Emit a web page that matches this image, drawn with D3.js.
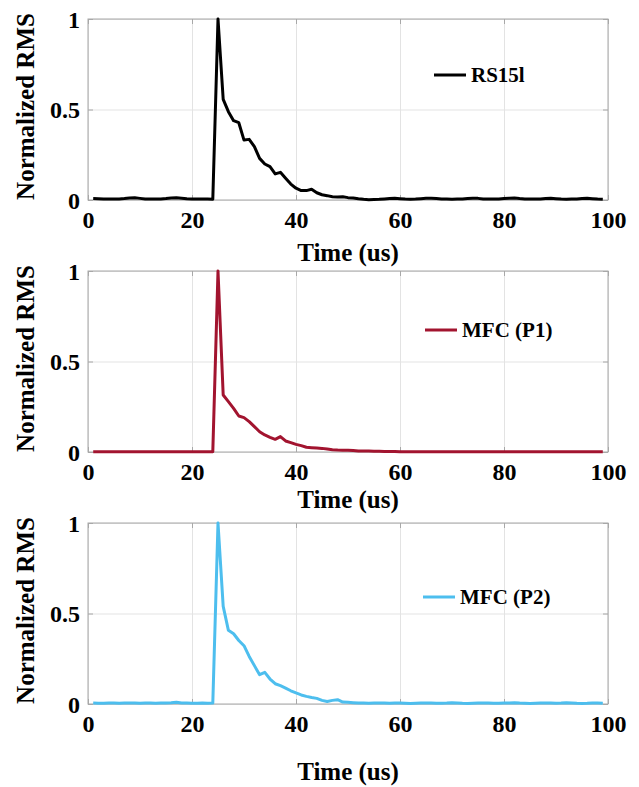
<!DOCTYPE html>
<html>
<head>
<meta charset="utf-8">
<script src="https://cdnjs.cloudflare.com/ajax/libs/d3/7.8.5/d3.min.js"></script>
<style>
    body { margin: 0; background: #fff; }
    svg text { font-weight: bold; fill: #000; }
</style>
</head>
<body>
<div id="chart"></div>
<script>

const FONT = "'Liberation Serif', Tinos, 'Times New Roman', 'DejaVu Serif', 'Noto Serif', serif";

// sampling grid (us)
const timeUs = d3.range(1, 100);

// normalized RMS, one value per microsecond (t = 1..99)
const rs15l = [
    0.008, 0.007, 0.006, 0.005, 0.005, 0.006, 0.008, 0.011, 0.012, 0.009,
    0.006, 0.005, 0.005, 0.006, 0.008, 0.011, 0.013, 0.010, 0.007, 0.006,
    0.006, 0.005, 0.005, 0.004, 1.000, 0.556, 0.488, 0.438, 0.427, 0.331,
    0.335, 0.295, 0.230, 0.199, 0.184, 0.144, 0.153, 0.120, 0.088, 0.065,
    0.052, 0.052, 0.059, 0.040, 0.029, 0.024, 0.018, 0.016, 0.018, 0.013,
    0.011, 0.007, 0.004, 0.002, 0.003, 0.004, 0.006, 0.008, 0.009, 0.007,
    0.005, 0.004, 0.005, 0.007, 0.009, 0.010, 0.008, 0.006, 0.005, 0.004,
    0.005, 0.006, 0.008, 0.010, 0.009, 0.006, 0.005, 0.005, 0.006, 0.008,
    0.010, 0.011, 0.008, 0.006, 0.005, 0.005, 0.006, 0.008, 0.009, 0.007,
    0.005, 0.004, 0.005, 0.006, 0.008, 0.009, 0.007, 0.005, 0.004
];

const mfcP1 = [
    0.002, 0.002, 0.002, 0.002, 0.002, 0.002, 0.002, 0.002, 0.002, 0.002,
    0.002, 0.002, 0.002, 0.002, 0.002, 0.002, 0.002, 0.002, 0.002, 0.002,
    0.002, 0.002, 0.002, 0.002, 1.000, 0.315, 0.278, 0.241, 0.199, 0.190,
    0.168, 0.140, 0.112, 0.094, 0.081, 0.070, 0.085, 0.061, 0.052, 0.042,
    0.035, 0.026, 0.024, 0.022, 0.020, 0.017, 0.013, 0.011, 0.010, 0.010,
    0.008, 0.006, 0.005, 0.005, 0.004, 0.004, 0.003, 0.003, 0.003, 0.002,
    0.002, 0.002, 0.002, 0.002, 0.002, 0.002, 0.001, 0.001, 0.002, 0.002,
    0.002, 0.002, 0.001, 0.001, 0.002, 0.002, 0.002, 0.002, 0.001, 0.001,
    0.001, 0.002, 0.002, 0.002, 0.001, 0.001, 0.001, 0.002, 0.002, 0.001,
    0.001, 0.001, 0.002, 0.002, 0.001, 0.001, 0.001, 0.001, 0.001
];

const mfcP2 = [
    0.005, 0.004, 0.004, 0.005, 0.005, 0.004, 0.005, 0.006, 0.005, 0.004,
    0.005, 0.005, 0.004, 0.005, 0.006, 0.007, 0.010, 0.006, 0.005, 0.004,
    0.004, 0.005, 0.004, 0.005, 1.000, 0.539, 0.407, 0.388, 0.351, 0.322,
    0.263, 0.212, 0.162, 0.175, 0.138, 0.112, 0.101, 0.088, 0.073, 0.061,
    0.050, 0.042, 0.036, 0.031, 0.020, 0.014, 0.020, 0.024, 0.011, 0.009,
    0.007, 0.005, 0.005, 0.004, 0.005, 0.006, 0.005, 0.004, 0.006, 0.005,
    0.004, 0.003, 0.004, 0.005, 0.006, 0.005, 0.004, 0.004, 0.005, 0.007,
    0.006, 0.004, 0.003, 0.004, 0.005, 0.006, 0.005, 0.004, 0.004, 0.005,
    0.006, 0.007, 0.005, 0.004, 0.003, 0.004, 0.005, 0.006, 0.005, 0.004,
    0.005, 0.007, 0.006, 0.004, 0.003, 0.004, 0.006, 0.005, 0.004
];

const seriesNames = ["RS15l", "MFC (P1)", "MFC (P2)"];
const xTicks = [0, 20, 40, 60, 80, 100];
const yTicks = [0, 0.5, 1];
const xLabel = "Time (us)";
const yLabel = "Normalized RMS";

/*
 * LinePanel - one axes box with a single normalized trace
 */
class LinePanel {

    constructor(_svg, _top, _values, _name, _color, _opts) {
        this.svg = _svg;
        this.top = _top;
        this.values = _values;
        this.name = _name;
        this.color = _color;
        this.opts = _opts;
        this.initVis();
    }

    initVis() {
        let vis = this;

        vis.left = 88;
        vis.width = 520;
        vis.height = 181;

        vis.g = vis.svg.append("g")
            .attr("transform", "translate(" + vis.left + "," + vis.top + ")");

        vis.x = d3.scaleLinear().domain([0, 100]).range([0, vis.width]);
        vis.y = d3.scaleLinear().domain([0, 1]).range([vis.height, 0]);

        // grid
        vis.g.append("g")
            .attr("class", "grid")
            .attr("transform", "translate(0," + vis.height + ")")
            .call(d3.axisBottom(vis.x).tickValues(xTicks).tickSize(-vis.height).tickFormat(""))
            .call(g => g.select(".domain").remove())
            .selectAll("line").attr("stroke", "#e3e3e3").attr("stroke-width", 1);

        vis.g.append("g")
            .attr("class", "grid")
            .call(d3.axisLeft(vis.y).tickValues(yTicks).tickSize(-vis.width).tickFormat(""))
            .call(g => g.select(".domain").remove())
            .selectAll("line").attr("stroke", "#e3e3e3").attr("stroke-width", 1);

        // box
        vis.g.append("rect")
            .attr("width", vis.width)
            .attr("height", vis.height)
            .attr("fill", "none")
            .attr("stroke", "#a8a8a8")
            .attr("stroke-width", 1);

        // inward ticks on all four sides
        let tickCol = "#a8a8a8";
        vis.g.append("g").attr("transform", "translate(0," + vis.height + ")")
            .call(d3.axisBottom(vis.x).tickValues(xTicks).tickSize(-5).tickFormat(""))
            .call(g => g.select(".domain").remove())
            .selectAll("line").attr("stroke", tickCol);
        vis.g.append("g")
            .call(d3.axisTop(vis.x).tickValues(xTicks).tickSize(-5).tickFormat(""))
            .call(g => g.select(".domain").remove())
            .selectAll("line").attr("stroke", tickCol);
        vis.g.append("g")
            .call(d3.axisLeft(vis.y).tickValues(yTicks).tickSize(-5).tickFormat(""))
            .call(g => g.select(".domain").remove())
            .selectAll("line").attr("stroke", tickCol);
        vis.g.append("g").attr("transform", "translate(" + vis.width + ",0)")
            .call(d3.axisRight(vis.y).tickValues(yTicks).tickSize(-5).tickFormat(""))
            .call(g => g.select(".domain").remove())
            .selectAll("line").attr("stroke", tickCol);

        // tick labels
        vis.g.append("g")
            .attr("class", "x-axis")
            .attr("transform", "translate(0," + vis.height + ")")
            .call(d3.axisBottom(vis.x).tickValues(xTicks).tickSize(0).tickFormat(d3.format("d")))
            .attr("font-family", null)
            .call(g => g.select(".domain").remove())
            .selectAll("text")
            .attr("y", 28)
            .attr("dy", null)
            .style("font-family", FONT)
            .style("font-size", "24px");

        vis.g.append("g")
            .attr("class", "y-axis")
            .call(d3.axisLeft(vis.y).tickValues(yTicks).tickSize(0).tickFormat(d => d === 0.5 ? "0.5" : d3.format("d")(d)))
            .attr("font-family", null)
            .call(g => g.select(".domain").remove())
            .selectAll("text")
            .attr("x", -8)
            .attr("dy", "0.34em")
            .style("font-family", FONT)
            .style("font-size", "24px");

        // axis titles
        vis.g.append("text")
            .attr("x", vis.width / 2)
            .attr("y", vis.height + vis.opts.titleOffset)
            .attr("text-anchor", "middle")
            .style("font-family", FONT)
            .style("font-size", "25px")
            .text(xLabel);

        vis.g.append("text")
            .attr("transform", "translate(" + (34 - vis.left) + "," + (vis.height / 2 - 3) + ") rotate(-90)")
            .attr("text-anchor", "middle")
            .style("font-family", FONT)
            .style("font-size", "25px")
            .text(yLabel);

        vis.wrangleData();
    }

    wrangleData() {
        let vis = this;
        vis.displayData = timeUs.map((t, i) => ({t: t, v: vis.values[i]}));
        vis.updateVis();
    }

    updateVis() {
        let vis = this;

        let line = d3.line()
            .x(d => vis.x(d.t))
            .y(d => vis.y(d.v));

        vis.g.append("path")
            .datum(vis.displayData)
            .attr("fill", "none")
            .attr("stroke", vis.color)
            .attr("stroke-width", 3)
            .attr("stroke-linejoin", "round")
            .attr("d", line);

        // legend (no frame)
        let lg = vis.g.append("g")
            .attr("transform", "translate(" + vis.opts.legendX + "," + vis.opts.legendY + ")");
        lg.append("line")
            .attr("x1", 0).attr("x2", 32)
            .attr("stroke", vis.color)
            .attr("stroke-width", 3);
        lg.append("text")
            .attr("x", 37)
            .attr("dy", "0.35em")
            .style("font-family", FONT)
            .style("font-size", "21px")
            .text(vis.name);
    }
}

let svg = d3.select("#chart").append("svg")
    .attr("width", 639)
    .attr("height", 787);

new LinePanel(svg, 19, rs15l, seriesNames[0], "#000000", {titleOffset: 61, legendX: 346, legendY: 56});
new LinePanel(svg, 271, mfcP1, seriesNames[1], "#a2142f", {titleOffset: 56, legendX: 337, legendY: 59});
new LinePanel(svg, 523, mfcP2, seriesNames[2], "#4dbeee", {titleOffset: 76, legendX: 335, legendY: 74});

</script>
</body>
</html>
